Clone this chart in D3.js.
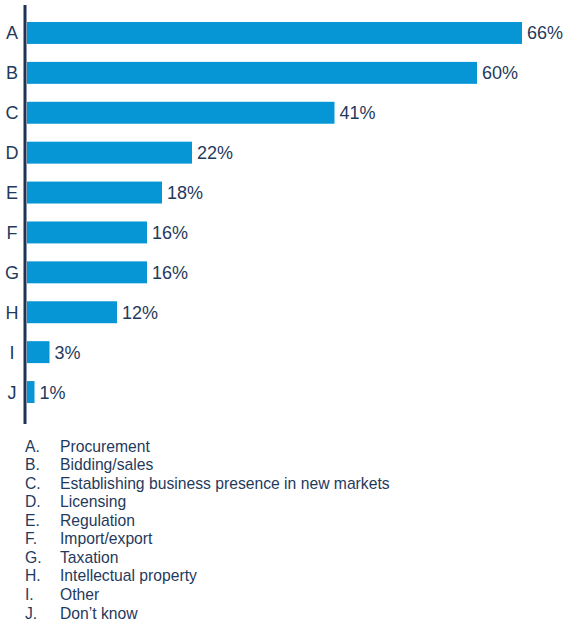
<!DOCTYPE html>
<html>
<head>
<meta charset="utf-8">
<script src="https://cdn.jsdelivr.net/npm/d3@7"></script>
<style>
  body { margin: 0; background: #fff; }
  svg text { font-family: "Liberation Sans", Arial, sans-serif; fill: #1f3a5c; }
</style>
</head>
<body>
<div id="chart"></div>
<script>
// data
var letters = ['A', 'B', 'C', 'D', 'E', 'F', 'G', 'H', 'I', 'J'];
var values = [66, 60, 41, 22, 18, 16, 16, 12, 3, 1];
var names = ['Procurement', 'Bidding/sales', 'Establishing business presence in new markets',
  'Licensing', 'Regulation', 'Import/export', 'Taxation', 'Intellectual property',
  'Other', 'Don\u2019t know'];

var width = 567, height = 624;
var barColor = '#0696d6';
var navy = '#1c3557';

var svg = d3.select('#chart').append('svg')
  .attr('width', width)
  .attr('height', height);

// scales
var x = d3.scaleLinear().domain([0, 66]).range([27, 522]);
var y = d3.scaleBand().domain(letters).range([22, 403])
  .paddingInner(0.45).paddingOuter(0);

var rows = letters.map(function (l, i) { return { key: l, value: values[i], name: names[i] }; });

// bars
svg.selectAll('.bar')
  .data(rows)
  .enter().append('rect')
  .attr('class', 'bar')
  .attr('x', x(0))
  .attr('y', function (d) { return y(d.key); })
  .attr('width', function (d) { return x(d.value) - x(0); })
  .attr('height', y.bandwidth())
  .attr('fill', barColor);

// value labels
svg.selectAll('.val')
  .data(rows)
  .enter().append('text')
  .attr('class', 'val')
  .attr('x', function (d) { return x(d.value) + 5; })
  .attr('y', function (d) { return y(d.key) + y.bandwidth() / 2; })
  .attr('dy', '0.36em')
  .style('font-size', '18px')
  .text(function (d) { return d.value + '%'; });

// vertical axis with letter labels
var yAxis = d3.axisLeft(y).tickSize(0).tickPadding(8);
var gy = svg.append('g')
  .attr('transform', 'translate(25,0)')
  .call(yAxis);
gy.select('.domain').remove();
gy.selectAll('text')
  .style('font-size', '18px')
  .attr('x', -13)
  .attr('dy', '0.36em')
  .attr('text-anchor', 'middle')
  .attr('fill', navy);

svg.append('line')
  .attr('x1', 25).attr('x2', 25)
  .attr('y1', 5).attr('y2', 424)
  .attr('stroke', navy)
  .attr('stroke-width', 3);

// legend list under chart
var legY = d3.scalePoint().domain(letters).range([446, 613]);
var leg = svg.selectAll('.leg')
  .data(rows)
  .enter().append('g')
  .attr('class', 'leg')
  .attr('transform', function (d) { return 'translate(0,' + legY(d.key) + ')'; });

leg.append('text')
  .attr('x', 25)
  .attr('dy', '0.35em')
  .style('font-size', '15.7px')
  .text(function (d) { return d.key + '.'; });

leg.append('text')
  .attr('x', 60)
  .attr('dy', '0.35em')
  .style('font-size', '15.7px')
  .text(function (d) { return d.name; });
</script>
</body>
</html>
